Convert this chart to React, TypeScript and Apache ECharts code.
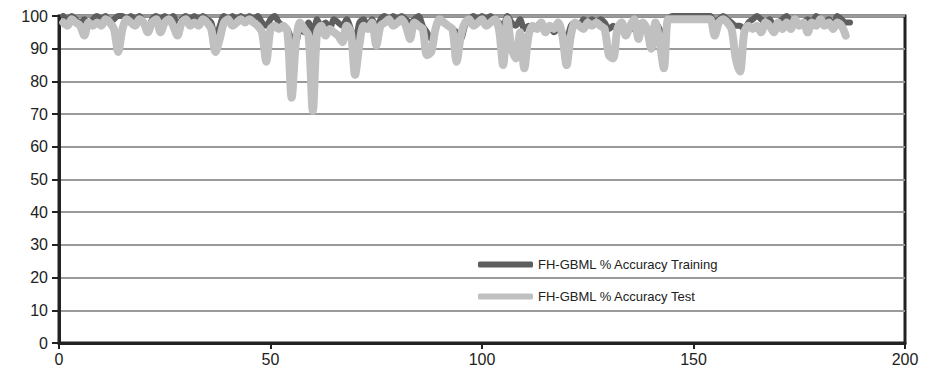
import React, { useEffect, useRef } from "react";
import * as echarts from "echarts";

const trainingName = "FH-GBML % Accuracy Training";
const testName = "FH-GBML % Accuracy Test";

const trainingValues: number[] = [
  100, 99, 100, 99, 98, 99, 97, 99, 100, 99,
  100, 98, 99, 100, 100, 99, 100, 99, 100, 98,
  96, 99, 100, 99, 100, 99, 100, 97, 99, 100,
  99, 100, 99, 100, 99, 98, 93, 97, 100, 99,
  100, 99, 100, 99, 100, 99, 100, 98, 97, 99,
  100, 98, 97, 96, 93, 92, 96, 95, 98, 94,
  99, 97, 98, 96, 99, 98, 97, 99, 96, 92,
  98, 99, 97, 99, 96, 99, 100, 99, 100, 99,
  100, 99, 98, 99, 100, 97, 95, 93, 96, 99,
  98, 97, 96, 95, 93, 97, 99, 100, 99, 100,
  99, 100, 99, 98, 97, 100, 98, 97, 99, 96,
  97, 96, 97, 98, 96, 97, 95, 96, 95, 93,
  97, 98, 97, 99, 98, 99, 98, 99, 98, 96,
  97, 96, 98, 95, 97, 96, 94, 98, 96, 93,
  98, 96, 93, 99, 100, 100, 100, 100, 100, 100,
  100, 100, 100, 100, 98, 99, 100, 99, 98, 97,
  97, 96, 98, 99, 100, 99, 98, 99, 97, 98,
  99, 100, 98, 99, 97, 98, 99, 98, 100, 99,
  98, 99, 97, 100, 99, 98, 98,
];

const testValues: number[] = [
  98, 97, 99, 98, 97, 94, 98, 97, 98, 97,
  99, 98, 96, 89, 96, 99, 98, 97, 99, 98,
  95, 98, 99, 95, 98, 99, 97, 94, 98, 99,
  97, 98, 97, 99, 98, 96, 89, 93, 98, 99,
  97, 98, 99, 98, 99, 98, 97, 95, 86, 96,
  97, 96, 97, 95, 75, 92, 98, 96, 94, 71,
  95, 97, 94, 96, 95, 94, 92, 97, 95, 82,
  91, 97, 96, 98, 91, 97, 98, 99, 97, 98,
  99, 97, 93, 98, 97, 96, 88, 89, 96, 99,
  98, 97, 96, 86, 94, 98, 99, 97, 98, 99,
  97, 98, 99, 96, 85, 99, 90, 87, 95, 84,
  94, 97, 96, 98, 95, 97, 96, 98, 94, 85,
  94, 98, 97, 96, 98, 97, 98, 97, 96, 88,
  87, 96, 98, 94, 97, 99, 93, 98, 96, 90,
  98, 92, 84, 99, 99, 99, 99, 99, 99, 99,
  99, 99, 99, 99, 94, 98, 99, 98, 96, 87,
  83, 95, 97, 96, 97, 95, 98, 97, 95, 98,
  96, 98, 96, 99, 97, 98, 95, 98, 97, 99,
  97, 98, 96, 98, 97, 94,
];

const xTicks = { min: 0, max: 200, interval: 50 };
const yTicks = { min: 0, max: 100, interval: 10 };

const toPairs = (vals: number[]) => vals.map((v, i) => [i + 1, v]);

export default function App() {
  const ref = useRef<HTMLDivElement>(null);
  useEffect(() => {
    document.body.style.margin = "0";
    const chart = echarts.init(ref.current!, null, { renderer: "svg" });
    const font = "Liberation Sans, Arial, sans-serif";
    chart.setOption({
      animation: false,
      backgroundColor: "#ffffff",
      grid: {
        left: 59,
        right: 21,
        top: 16,
        bottom: 35,
        show: true,
        borderColor: "#222222",
        borderWidth: 3,
        backgroundColor: "transparent",
      },
      legend: {
        orient: "vertical",
        left: 473,
        top: 253,
        itemWidth: 55,
        itemHeight: 6,
        itemGap: 19,
        icon: "roundRect",
        textStyle: { fontFamily: font, fontSize: 13, color: "#222222" },
        data: [trainingName, testName],
      },
      xAxis: {
        type: "value",
        min: xTicks.min,
        max: xTicks.max,
        interval: xTicks.interval,
        axisLine: { show: true, onZero: false, lineStyle: { color: "#222222", width: 3 } },
        axisTick: { show: true, length: 6, lineStyle: { color: "#222222", width: 2 } },
        axisLabel: { fontFamily: font, fontSize: 16, color: "#222222", margin: 8 },
        splitLine: { show: false },
      },
      yAxis: {
        type: "value",
        min: yTicks.min,
        max: yTicks.max,
        interval: yTicks.interval,
        axisLine: { show: true, lineStyle: { color: "#222222", width: 3 } },
        axisTick: { show: true, length: 7, lineStyle: { color: "#222222", width: 2 } },
        axisLabel: { fontFamily: font, fontSize: 16, color: "#222222", margin: 11 },
        splitLine: { show: true, lineStyle: { color: "#9a9a9a", width: 2 } },
      },
      series: [
        {
          name: trainingName,
          type: "line",
          data: toPairs(trainingValues),
          showSymbol: false,
          symbol: "none",
          smooth: 0.3,
          color: "#5e5e5e",
          lineStyle: { width: 6, color: "#5e5e5e", cap: "round", join: "round" },
          z: 2,
        },
        {
          name: testName,
          type: "line",
          data: toPairs(testValues),
          showSymbol: false,
          symbol: "none",
          smooth: 0.3,
          color: "#c0c0c0",
          lineStyle: { width: 8, color: "#c0c0c0", cap: "round", join: "round" },
          z: 3,
        },
      ],
    });
    return () => chart.dispose();
  }, []);
  return <div ref={ref} style={{ width: 926, height: 378 }} />;
}
